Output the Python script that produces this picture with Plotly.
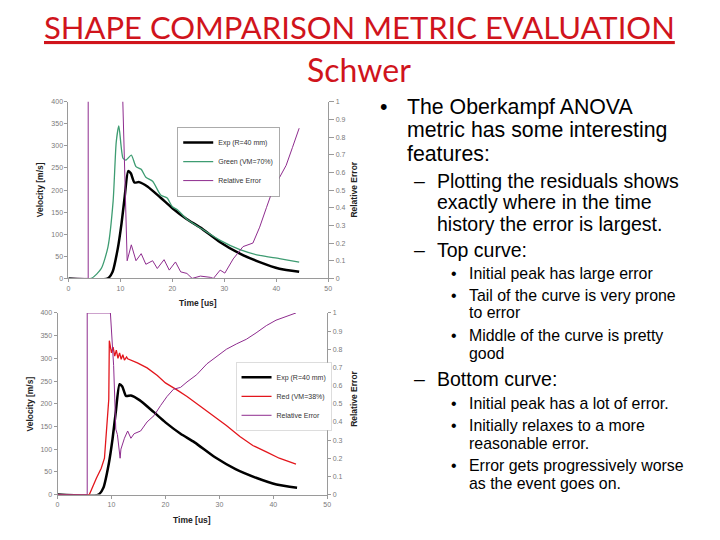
import plotly.graph_objects as go

# ---------------- data ----------------
t_exp = [0, 7.6, 8.5, 9.5, 10.2, 10.8, 11.5, 12.0, 12.7, 13.6, 15.2, 17.8, 20.0, 22.8, 25.4, 29.2, 33.0, 36.8, 40.6, 44.4]
v_exp = [0, 0, 15, 68, 123, 182, 243, 238, 217, 218, 208, 182, 159, 134, 115, 82, 56, 37, 22, 15]

t_green = [0, 4.4, 6.3, 7.6, 8.6, 9.2, 9.7, 10.5, 11.1, 12.1, 13.0, 14.0, 14.9, 16.2, 17.8, 19.0, 20.0, 20.9, 22.8, 25.4, 29.2, 33.0, 36.8, 40.6, 44.4]
v_green = [0, 0, 22, 71, 175, 309, 345, 272, 268, 279, 253, 247, 229, 220, 188, 182, 162, 156, 134, 114, 86, 65, 52, 45, 37]

t_err1 = [0, 3.8, 3.8, 10.0, 11.3, 12.1, 13.0, 14.0, 14.9, 16.2, 17.1, 18.4, 19.4, 20.6, 21.6, 22.8, 23.8, 25.4, 27.3, 27.9,
          29.2, 30.1, 31.7, 33.6, 35.5, 36.8, 38.1, 39.3, 40.6, 41.9, 43.1, 44.1, 44.4]
err1 = [0, 0, 1.5, 1.5, 0.1, 0.19, 0.1, 0.14, 0.08, 0.1, 0.056, 0.106, 0.047, 0.093, 0.037, 0.028, 0.0, 0.013, 0.006, 0.0,
        0.047, 0.03, 0.11, 0.18, 0.2, 0.29, 0.4, 0.5, 0.57, 0.64, 0.74, 0.83, 0.85]

t_red = [0, 5.9, 7.2, 8.1, 8.7, 9.2, 9.5, 9.6, 10.0, 10.3, 10.6, 10.9, 11.2, 11.5, 11.8, 12.1, 12.4, 12.8, 13.0, 14.8, 16.6,
         18.5, 20.0, 22.2, 24.0, 26.4, 28.9, 31.3, 33.8, 36.2, 38.7, 41.1, 44.2]
v_red = [0, 0, 36, 58, 80, 152, 210, 339, 312, 325, 305, 318, 300, 312, 298, 308, 296, 303, 299, 290, 279,
         262, 246, 230, 216, 195, 174, 152, 128, 108, 94, 80, 67]

t_err2 = [0, 5.5, 5.5, 9.8, 10.4, 10.8, 11.1, 11.6, 11.75, 12.4, 13.0, 13.6, 14.2, 15.4, 16.6, 17.9, 19.1, 20.3, 21.5, 22.8,
          24.0, 25.8, 27.7, 29.5, 31.3, 33.2, 35.0, 36.8, 38.7, 40.5, 42.3, 44.2]
err2 = [0, 0, 1.0, 1.0, 0.71, 0.36, 0.33, 0.2, 0.25, 0.31, 0.35, 0.31, 0.335, 0.35, 0.4, 0.435, 0.49, 0.54, 0.58, 0.59,
        0.62, 0.66, 0.72, 0.76, 0.80, 0.83, 0.855, 0.89, 0.93, 0.96, 0.98, 1.0]

title_line1 = "SHAPE COMPARISON METRIC EVALUATION"
title_line2 = "Schwer"

# (text, level, y-pixel, has bullet)
lines = [
    ("The Oberkampf ANOVA", 1, 104, True),
    ("metric has some interesting", 1, 128, False),
    ("features:", 1, 152, False),
    ("Plotting the residuals shows", 2, 179, True),
    ("exactly where in the time", 2, 201, False),
    ("history the error is largest.", 2, 223, False),
    ("Top curve:", 2, 249, True),
    ("Initial peak has large error", 3, 273, True),
    ("Tail of the curve is very prone", 3, 295, True),
    ("to error", 3, 313, False),
    ("Middle of the curve is pretty", 3, 336, True),
    ("good", 3, 354, False),
    ("Bottom curve:", 2, 380, True),
    ("Initial peak has a lot of error.", 3, 405, True),
    ("Initially relaxes to a more", 3, 427, True),
    ("reasonable error.", 3, 445, False),
    ("Error gets progressively worse", 3, 468, True),
    ("as the event goes on.", 3, 486, False),
]

W, H = 720, 540
def px(x):
    return x / W
def py(y):
    return 1 - y / H

EXP_C = "#000000"
GREEN_C = "#3E9C72"
PURPLE_C = "#8E2C8E"
RED_C = "#E3161C"
AX_C = "#9A9A9A"
TICK_FONT = dict(family="Liberation Sans", size=7, color="#7A7A7A")
LAB_FONT = dict(family="Liberation Sans", size=8.5, color="#222222")

fig = go.Figure()

# top chart
fig.add_trace(go.Scatter(x=t_exp, y=v_exp, mode="lines", name="Exp (R=40 mm)", line=dict(color=EXP_C, width=2.5, shape="spline", smoothing=0.6), xaxis="x", yaxis="y", legend="legend"))
fig.add_trace(go.Scatter(x=t_green, y=v_green, mode="lines", name="Green (VM=70%)", line=dict(color=GREEN_C, width=1.3, shape="spline", smoothing=0.6), xaxis="x", yaxis="y", legend="legend"))
fig.add_trace(go.Scatter(x=t_err1, y=err1, mode="lines", name="Relative Error", line=dict(color=PURPLE_C, width=1), xaxis="x", yaxis="y2", legend="legend"))

# bottom chart
fig.add_trace(go.Scatter(x=t_exp, y=v_exp, mode="lines", name="Exp (R=40 mm)", line=dict(color=EXP_C, width=2.5, shape="spline", smoothing=0.6), xaxis="x3", yaxis="y3", legend="legend2"))
fig.add_trace(go.Scatter(x=t_red, y=v_red, mode="lines", name="Red (VM=38%)", line=dict(color=RED_C, width=1.3), xaxis="x3", yaxis="y3", legend="legend2"))
fig.add_trace(go.Scatter(x=t_err2, y=err2, mode="lines", name="Relative Error", line=dict(color=PURPLE_C, width=1), xaxis="x3", yaxis="y4", legend="legend2"))

common_ax = dict(showline=True, linecolor=AX_C, linewidth=1, ticks="outside", ticklen=3, tickcolor=AX_C,
                 tickfont=TICK_FONT, showgrid=False, zeroline=False, fixedrange=True)

fig.update_layout(
    width=W, height=H,
    margin=dict(l=0, r=0, t=0, b=0),
    paper_bgcolor="white", plot_bgcolor="white",
    xaxis=dict(domain=[px(67), px(329)], anchor="y", range=[0, 50], dtick=10, **common_ax),
    yaxis=dict(domain=[py(278), py(99)], anchor="x", range=[0, 400], dtick=50, **common_ax),
    yaxis2=dict(overlaying="y", anchor="x", side="right", range=[0, 1], dtick=0.1, ticklen=5, **{k: v for k, v in common_ax.items() if k != "ticklen"}),
    xaxis3=dict(domain=[px(56), px(328)], anchor="y3", range=[0, 50], dtick=10, **common_ax),
    yaxis3=dict(domain=[py(497), py(313)], anchor="x3", range=[0, 400], dtick=50, **common_ax),
    yaxis4=dict(overlaying="y3", anchor="x3", side="right", range=[0, 1], dtick=0.1, **common_ax),
    legend=dict(x=px(177), y=py(125), xanchor="left", yanchor="top", bgcolor="white", bordercolor="#888888", borderwidth=0.7,
                font=dict(family="Liberation Sans", size=7, color="#333333"), itemwidth=30, tracegroupgap=0),
    legend2=dict(x=px(236), y=py(363), xanchor="left", yanchor="top", bgcolor="white", bordercolor="#BBBBBB", borderwidth=0.5,
                 font=dict(family="Liberation Sans", size=7, color="#333333"), itemwidth=30, tracegroupgap=0),
    showlegend=True,
)

ann = []
# axis titles
ann.append(dict(text="<b>Time [us]</b>", x=px(198), y=py(303), font=LAB_FONT))
ann.append(dict(text="<b>Velocity [m/s]</b>", x=px(38), y=py(188), textangle=-90, font=LAB_FONT))
ann.append(dict(text="<b>Relative Error</b>", x=px(355), y=py(188), textangle=-90, font=LAB_FONT))
ann.append(dict(text="<b>Time [us]</b>", x=px(192), y=py(523), font=LAB_FONT))
ann.append(dict(text="<b>Velocity [m/s]</b>", x=px(28), y=py(405), textangle=-90, font=LAB_FONT))
ann.append(dict(text="<b>Relative Error</b>", x=px(355), y=py(400), textangle=-90, font=LAB_FONT))

# slide title
TFONT = "Lato"
ann.append(dict(text="<u>" + title_line1 + "</u>", x=px(361), y=py(23), font=dict(family=TFONT, size=31, color="#D0141C")))
ann.append(dict(text=title_line2, x=px(360), y=py(66), font=dict(family=TFONT, size=32, color="#D0141C")))

# slide bullets
BFONT = "Liberation Sans"
level_cfg = {
    1: dict(bx=380, bsym="•", tx=407, size=21.3),
    2: dict(bx=414, bsym="–", tx=438, size=19.5),
    3: dict(bx=452, bsym="•", tx=470, size=15.9),
}
for text, lvl, ypx, has_bullet in lines:
    c = level_cfg[lvl]
    if has_bullet:
        ann.append(dict(text=c["bsym"], x=px(c["bx"]), y=py(ypx), xanchor="left",
                        font=dict(family=BFONT, size=c["size"], color="black")))
    ann.append(dict(text=text, x=px(c["tx"]), y=py(ypx), xanchor="left",
                    font=dict(family=BFONT, size=c["size"], color="black")))

for a in ann:
    a.setdefault("xref", "paper")
    a.setdefault("yref", "paper")
    a.setdefault("showarrow", False)
    a.setdefault("yanchor", "middle")
    a.setdefault("xanchor", "center")
    a.setdefault("borderpad", 0)
fig.update_layout(annotations=ann)

fig.write_html("out.html", config={"displayModeBar": False},
               post_script="document.body.style.margin='0';document.body.style.padding='0';")
